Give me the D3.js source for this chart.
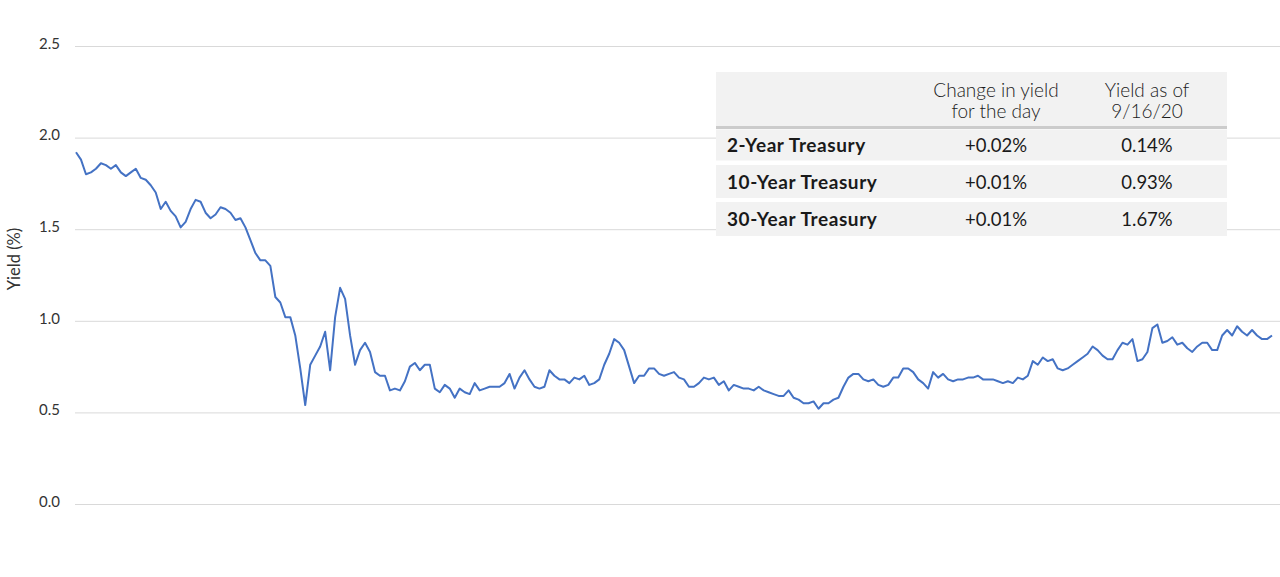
<!DOCTYPE html>
<html>
<head>
<meta charset="utf-8">
<script src="https://cdn.jsdelivr.net/npm/d3@7"></script>
<style>
  body { margin: 0; background: #fff; }
  svg { display: block; font-family: Lato, "Open Sans", sans-serif; }
</style>
</head>
<body>
<div id="chart"></div>
<script>
// 10-year treasury yield, daily closes
var yields = [
  1.92,
  1.88,1.80,1.81,1.83,1.86,1.85,1.83,1.85,1.81,1.79,1.81,1.83,1.78,1.77,1.74,1.70,1.61,1.65,1.60,1.57,1.51,
  1.54,1.61,1.66,1.65,1.59,1.56,1.58,1.62,1.61,1.59,1.55,1.56,1.51,1.44,1.37,1.33,1.33,1.30,1.13,
  1.10,1.02,1.02,0.92,0.74,0.54,0.76,0.81,0.86,0.94,0.73,1.02,1.18,1.12,0.92,0.76,0.84,0.88,0.83,0.72,0.70,0.70,
  0.62,0.63,0.62,0.67,0.75,0.77,0.73,0.76,0.76,0.63,0.61,0.65,0.63,0.58,0.63,0.61,0.60,0.66,0.62,0.63,0.64,
  0.64,0.64,0.66,0.71,0.63,0.69,0.73,0.68,0.64,0.63,0.64,0.73,0.70,0.68,0.68,0.66,0.69,0.68,0.70,0.65,
  0.66,0.68,0.76,0.82,0.90,0.88,0.84,0.75,0.66,0.70,0.70,0.74,0.74,0.71,0.70,0.71,0.72,0.69,0.68,0.64,0.64,0.66,
  0.69,0.68,0.69,0.65,0.67,0.62,0.65,0.64,0.63,0.63,0.62,0.64,0.62,0.61,0.60,0.59,0.59,0.62,0.58,0.57,0.55,0.55,
  0.56,0.52,0.55,0.55,0.57,0.58,0.64,0.69,0.71,0.71,0.68,0.67,0.68,0.65,0.64,0.65,0.69,0.69,0.74,0.74,0.72,
  0.68,0.66,0.63,0.72,0.69,0.71,0.68,0.67,0.68,0.68,0.69,0.69,0.70,0.68,0.68,0.68,0.67,0.66,0.67,0.66,0.69,
  0.68,0.70,0.78,0.76,0.80,0.78,0.79,0.74,0.73,0.74,0.76,0.78,0.80,0.82,0.86,0.84,0.81,0.79,0.79,0.84,0.88,
  0.87,0.90,0.78,0.79,0.83,0.96,0.98,0.88,0.89,0.91,0.87,0.88,0.85,0.83,0.86,0.88,0.88,0.84,0.84,
  0.92,0.95,0.92,0.97,0.94,0.92,0.95,0.92,0.90,0.90,0.92
];

var yTicks = [0, 0.5, 1.0, 1.5, 2.0, 2.5];
var yTitle = "Yield (%)";

var tableHeader = [["Change in yield", "for the day"], ["Yield as of", "9/16/20"]];
var tableLabels = ["2-Year Treasury", "10-Year Treasury", "30-Year Treasury"];
var tableChange = ["+0.02%", "+0.01%", "+0.01%"];
var tableYield = ["0.14%", "0.93%", "1.67%"];

var width = 1280, height = 577;

var svg = d3.select("#chart").append("svg")
  .attr("width", width)
  .attr("height", height);

var x = d3.scaleLinear().domain([0, yields.length - 1]).range([76, 1272]);
var y = d3.scaleLinear().domain([0, 2.5]).range([504, 46]);

// gridlines + labels
var yAxis = d3.axisLeft(y)
  .tickValues(yTicks)
  .tickFormat(d3.format(".1f"))
  .tickSize(-(1280 - 75))
  .tickPadding(15);

var gy = svg.append("g")
  .attr("transform", "translate(75,0)")
  .call(yAxis);
gy.select(".domain").remove();
gy.selectAll(".tick line").attr("stroke", "#d9d9d9").attr("stroke-width", 1);
gy.selectAll(".tick text")
  .attr("fill", "#333333")
  .attr("font-size", 15)
  .attr("font-family", "Lato, sans-serif")
  .attr("dy", "0.15em");

svg.append("text")
  .attr("transform", "translate(20,259) rotate(-90)")
  .attr("text-anchor", "middle")
  .style("font-size", "16.5px")
  .attr("fill", "#333333")
  .text(yTitle);

// the line
var line = d3.line()
  .x(function(d, i){ return x(i); })
  .y(function(d){ return y(d); });

svg.append("path")
  .datum(yields)
  .attr("fill", "none")
  .attr("stroke", "#4472c4")
  .attr("stroke-width", 2)
  .attr("stroke-linejoin", "round")
  .attr("d", line);

// table box on top
var tbl = svg.append("g").attr("font-size", 18).attr("fill", "#1a1a1a");
var tLeft = 716, tRight = 1227;
var colChange = 996, colYield = 1147;

tbl.append("rect")
  .attr("x", tLeft).attr("y", 72)
  .attr("width", tRight - tLeft).attr("height", 55)
  .attr("fill", "#f2f2f2");
tbl.append("rect")
  .attr("x", tLeft).attr("y", 126)
  .attr("width", tRight - tLeft).attr("height", 3)
  .attr("fill", "#cccccc");

tableHeader.forEach(function(lines, c){
  lines.forEach(function(t, k){
    tbl.append("text")
      .attr("x", c === 0 ? colChange : colYield)
      .attr("y", 97 + k * 21)
      .attr("text-anchor", "middle")
      .attr("font-size", 19)
      .attr("font-weight", 300)
      .attr("fill", "#1a1a1a")
      .text(t);
  });
});

var rowTop = [129.5, 165, 202];
var rowH = [33, 35, 36];

tableLabels.forEach(function(lbl, i){
  tbl.append("rect")
    .attr("x", tLeft).attr("y", rowTop[i])
    .attr("width", tRight - tLeft).attr("height", rowH[i] - 2)
    .attr("fill", "#f2f2f2");
  var base = rowTop[i] + rowH[i] / 2 + 6;
  tbl.append("text")
    .attr("x", 727).attr("y", base)
    .attr("font-weight", "bold")
    .attr("font-size", 19)
    .attr("letter-spacing", 0.6)
    .attr("fill", "#1a1a1a")
    .text(lbl);
  tbl.append("text")
    .attr("x", colChange).attr("y", base)
    .attr("text-anchor", "middle")
    .attr("font-size", 18.5)
    .attr("fill", "#1a1a1a")
    .text(tableChange[i]);
  tbl.append("text")
    .attr("x", colYield).attr("y", base)
    .attr("text-anchor", "middle")
    .attr("font-size", 18.5)
    .attr("fill", "#1a1a1a")
    .text(tableYield[i]);
});
</script>
</body>
</html>
